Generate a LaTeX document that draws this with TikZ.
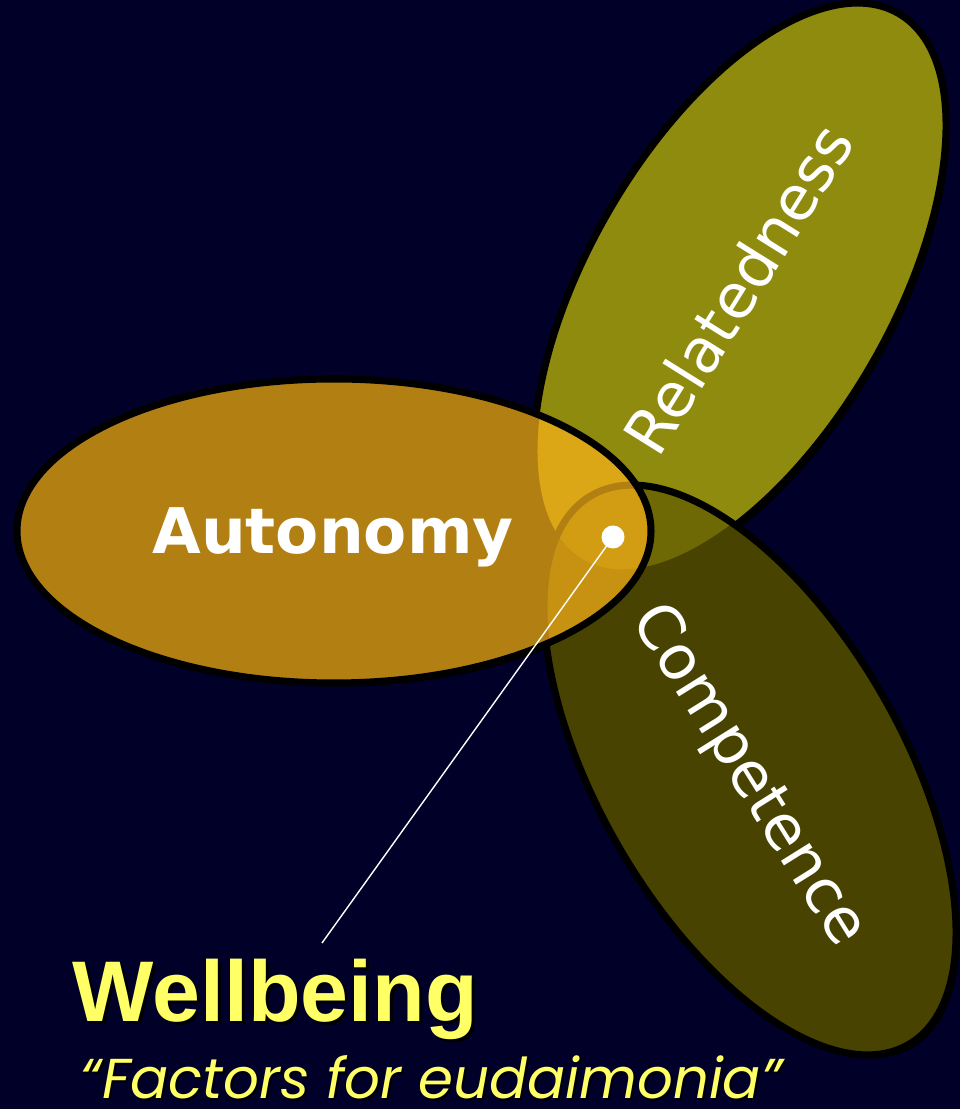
\documentclass[tikz,border=0pt]{standalone}
\usepackage{fontspec}
\newfontfamily\dejavu{DejaVu Sans}
\newfontfamily\arialfont{Liberation Sans}
\newfontfamily\gothic{Poppins}
\usetikzlibrary{positioning}

\begin{document}
\begin{tikzpicture}[
    petal/.style={draw=black, line width=2pt},
    petalshadow/.style={fill=black},
    petallabel/.style={text=white, inner sep=0pt, font=\dejavu\fontsize{17.5}{21}\selectfont},
    titletext/.style={inner sep=0pt, font=\arialfont\bfseries\fontsize{24.5}{29}\selectfont},
    subtext/.style={inner sep=0pt, text depth=0pt, font=\gothic\itshape\fontsize{16}{19}\selectfont},
]

% ===== Colors =====
\definecolor{bgnavy}{RGB}{0,0,40}
\definecolor{autofill}{RGB}{251,179,26}
\definecolor{relfill}{RGB}{143,139,14}
\definecolor{compfill}{RGB}{99,93,2}
\definecolor{wellyellow}{RGB}{255,255,102}

% ===== Ellipse layout =====
% all three petals share one size, only centre and tilt differ
\def\rx{3.17}
\def\ry{1.52}
\def\shx{0.035}   % shadow offset
\def\shy{-0.035}

% background, fixes the page size too
\fill[bgnavy] (0,0) rectangle (9.6,11.09);
\useasboundingbox (0,0) rectangle (9.6,11.09);

% ===== Shadows (all first, so the fills cover them) =====
\foreach \cx/\cy/\ang in {7.40/8.21/60, 7.50/3.39/-60, 3.34/5.78/0} {
    \fill[petalshadow, shift={(\cx+\shx,\cy+\shy)}, rotate=\ang]
        (0,0) ellipse [x radius=\rx, y radius=\ry];
}

% ===== Petals =====
% Relatedness (opaque, at the back)
\draw[petal, fill=relfill, shift={(7.40,8.21)}, rotate=60]
    (0,0) ellipse [x radius=\rx, y radius=\ry];
% Competence (see-through over Relatedness)
\draw[petal, fill=compfill, fill opacity=0.73, shift={(7.50,3.39)}, rotate=-60]
    (0,0) ellipse [x radius=\rx, y radius=\ry];
% Autonomy (see-through, on top)
\draw[petal, fill=autofill, fill opacity=0.71, shift={(3.34,5.78)}]
    (0,0) ellipse [x radius=\rx, y radius=\ry];

% ===== Petal labels =====
\node[petallabel, anchor=base, font=\dejavu\bfseries\fontsize{17.9}{21}\selectfont]
    (autolabel) at (3.33,5.55) {Autonomy};
\node[petallabel, rotate=58] (rellabel) at (7.38,8.20) {Relatedness};
\node[petallabel, rotate=-58] (complabel) at (7.48,3.33) {Competence};

% ===== Wellbeing pointer =====
\node[circle, fill=white, minimum size=0.23cm, inner sep=0pt] (wbdot) at (6.13,5.72) {};
\coordinate (wbtip) at (3.22,1.66);
\draw[white, line width=0.4pt] (wbdot.center) -- (wbtip);

% ===== Title with drop shadow =====
\node[titletext, anchor=base west, text=black] (wbshadow) at (0.75,0.84) {Wellbeing};
\node[titletext, anchor=base west, text=wellyellow] (wbtitle) at (0.72,0.87) {Wellbeing};

\node[subtext, anchor=base west, text=black] (subshadow) at (0.82,0.08) {“Factors for eudaimonia”};
\node[subtext, anchor=base west, text=wellyellow] (subtitle) at (0.80,0.10) {“Factors for eudaimonia”};

\end{tikzpicture}
\end{document}
